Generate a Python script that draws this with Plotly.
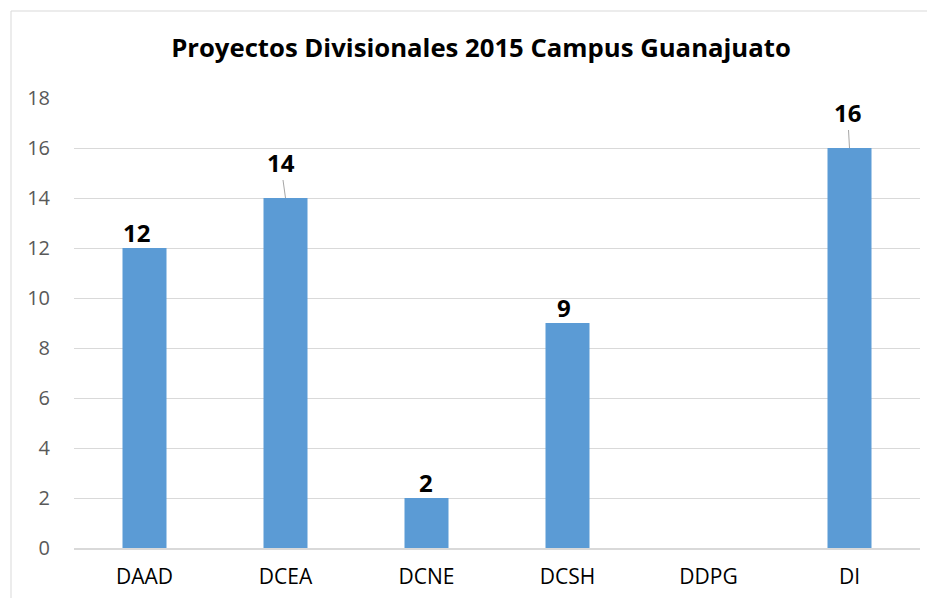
import plotly.graph_objects as go

categories = ["DAAD", "DCEA", "DCNE", "DCSH", "DDPG", "DI"]
values = [12, 14, 2, 9, None, 16]
y_ticks = [0, 2, 4, 6, 8, 10, 12, 14, 16, 18]
title_text = "Proyectos Divisionales 2015 Campus Guanajuato"

FONT = "Open Sans"

fig = go.Figure()
fig.add_trace(go.Bar(
    x=categories, y=values,
    marker=dict(color="#5B9BD5", line=dict(width=0)),
    hoverinfo="x+y",
))

# data labels (some with leader lines, some nudged)
leader = {"DCEA": (-5, -36), "DI": (-2, -36)}
nudge = {"DAAD": -8, "DCNE": -1, "DCSH": -4}
for c, v in zip(categories, values):
    if v is None:
        continue
    if c in leader:
        ax, ay = leader[c]
        fig.add_annotation(x=c, y=v, text=f"<b>{v}</b>", showarrow=True,
                           arrowhead=0, arrowwidth=1, arrowcolor="#A6A6A6",
                           ax=ax, ay=ay, standoff=0,
                           font=dict(family=FONT, size=24, color="#000000"))
    else:
        fig.add_annotation(x=c, y=v, text=f"<b>{v}</b>", showarrow=False,
                           yanchor="bottom", yshift=-3, xshift=nudge.get(c, 0),
                           font=dict(family=FONT, size=24, color="#000000"))

# outer chart border (extends off the right/bottom edges)
fig.add_shape(type="rect", xref="paper", yref="paper",
              x0=-63 / 846, x1=1.1, y0=-0.2, y1=1 + 87 / 450,
              line=dict(color="#D9D9D9", width=1), fillcolor="rgba(0,0,0,0)",
              layer="below")

fig.update_layout(
    width=927, height=590,
    margin=dict(l=66, r=15, t=90, b=50, autoexpand=False),
    paper_bgcolor="white", plot_bgcolor="white",
    title=dict(text=f"<b>{title_text}</b>", x=473 / 927, xanchor="center",
               y=1 - 40 / 590, yanchor="middle",
               font=dict(family=FONT, size=25.7, color="#000000")),
    bargap=0.688,
    showlegend=False,
    font=dict(family=FONT),
    xaxis=dict(showgrid=False, showline=True, linecolor="#D9D9D9", linewidth=2,
               tickfont=dict(family=FONT, size=21, color="#000000"),
               ticks="", ticklabelstandoff=9, fixedrange=True,
               automargin=False),
    yaxis=dict(range=[0, 18], tickvals=y_ticks, showgrid=True,
               gridcolor="#D9D9D9", gridwidth=1, zeroline=False,
               tickfont=dict(family=FONT, size=20, color="#595959"),
               ticks="", ticklabelstandoff=23, fixedrange=True,
               automargin=False),
)

fig.write_html("out.html")
